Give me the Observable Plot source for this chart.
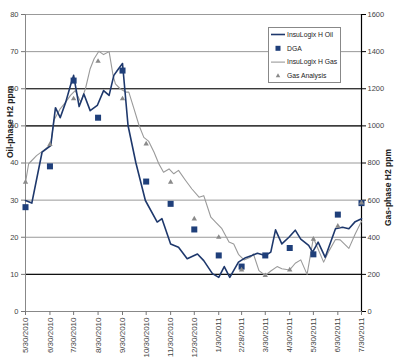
<!DOCTYPE html>
<html>
<head>
<meta charset="utf-8">
<script src="https://cdn.jsdelivr.net/npm/d3@7"></script>
<script src="https://cdn.jsdelivr.net/npm/@observablehq/plot@0.6"></script>
<style>
  html, body { margin: 0; padding: 0; background: #fff; }
  #chart { width: 400px; height: 363px; }
</style>
</head>
<body>
<div id="chart"></div>
<script>
// ---- Data ----
const xTickLabels = ["5/30/2010","6/30/2010","7/30/2010","8/30/2010","9/30/2010","10/30/2010","11/30/2010","12/30/2010","1/30/2011","2/28/2011","3/30/2011","4/30/2011","5/30/2011","6/30/2011","7/30/2011"];
const yTicks = [0,10,20,30,40,50,60,70,80];

// InsuLogix H Oil (oil-phase H2 ppm)
const oilDates = ["2010-05-30","2010-06-07","2010-06-20","2010-07-01","2010-07-07","2010-07-13","2010-07-20","2010-07-26","2010-07-30","2010-08-06","2010-08-12","2010-08-20","2010-08-29","2010-09-06","2010-09-13","2010-09-19","2010-09-25","2010-09-30","2010-10-07","2010-10-17","2010-10-29","2010-11-13","2010-11-19","2010-11-30","2010-12-10","2010-12-21","2011-01-03","2011-01-11","2011-01-22","2011-01-30","2011-02-06","2011-02-13","2011-02-24","2011-03-05","2011-03-13","2011-03-20","2011-03-30","2011-04-06","2011-04-12","2011-04-20","2011-04-29","2011-05-07","2011-05-14","2011-05-24","2011-05-29","2011-06-05","2011-06-14","2011-06-27","2011-07-06","2011-07-14","2011-07-22","2011-07-30"];
const oilValues = [29.9,29.2,42.9,44.7,54.9,52.2,56.4,60.9,63.6,55.2,58.6,54.1,55.5,59.5,58.2,63.6,65.4,66.8,50.1,40.0,29.9,24.1,25.0,18.2,17.3,14.2,15.5,13.7,10.2,9.2,12.1,9.2,13.3,14.5,15.1,15.7,15.1,16.0,22.0,18.2,20.0,21.9,19.5,17.8,16.0,18.7,14.6,22.3,22.7,22.3,24.2,25.0];

// InsuLogix H Gas (gas-phase H2 ppm)
const gasDates = ["2010-05-30","2010-06-03","2010-06-13","2010-06-22","2010-07-01","2010-07-05","2010-07-13","2010-07-20","2010-07-26","2010-08-01","2010-08-08","2010-08-14","2010-08-20","2010-08-25","2010-08-31","2010-09-06","2010-09-13","2010-09-18","2010-09-21","2010-09-27","2010-10-04","2010-10-08","2010-10-14","2010-10-21","2010-10-27","2010-11-02","2010-11-09","2010-11-15","2010-11-21","2010-11-28","2010-12-04","2010-12-10","2010-12-19","2010-12-27","2011-01-05","2011-01-11","2011-01-20","2011-01-26","2011-02-03","2011-02-12","2011-02-18","2011-02-24","2011-03-03","2011-03-11","2011-03-15","2011-03-22","2011-03-30","2011-04-06","2011-04-14","2011-04-20","2011-04-30","2011-05-07","2011-05-14","2011-05-22","2011-05-30","2011-06-04","2011-06-12","2011-06-19","2011-06-27","2011-07-03","2011-07-14","2011-07-22","2011-07-30"];
const gasValues = [696,796,840,868,900,1030,1092,1128,1164,1190,1128,1200,1308,1362,1402,1384,1400,1272,1226,1200,1182,1182,1100,1002,938,918,858,796,750,768,742,760,706,660,616,624,508,482,446,374,364,308,278,292,310,220,194,218,242,230,224,260,278,200,396,346,266,328,388,386,340,418,486];

// Monthly lab samples
const dgaValues = [28.1,39.1,62.2,52.2,64.9,35.0,29.0,22.1,15.1,12.1,15.1,17.1,15.4,26.1,29.2];           // oil ppm
const gasAnalysisValues = [697,900,1146,1348,1146,903,697,499,400,224,194,224,390,460,585];               // gas ppm

// ---- Build tables ----
const parseMDY = s => { const [m,d,y] = s.split("/").map(Number); return new Date(Date.UTC(y, m-1, d)); };
const parseISO = s => new Date(s + "T00:00:00Z");
const tickDates = xTickLabels.map(parseMDY);
const fmt = d => `${d.getUTCMonth()+1}/${d.getUTCDate()}/${d.getUTCFullYear()}`;

const oil = oilDates.map((d,i) => ({date: parseISO(d), v: oilValues[i]}));
const gas = gasDates.map((d,i) => ({date: parseISO(d), v: gasValues[i]}));
const dga = tickDates.map((d,i) => ({date: d, v: dgaValues[i]}));
const ga  = tickDates.map((d,i) => ({date: d, v: gasAnalysisValues[i]}));
const RATIO = 20; // gas axis = oil axis * 20

const FONT = "Arial, 'Liberation Sans', sans-serif";
const navy = "#1e386c";
const grayLine = "#9a9a9a";

const plot = Plot.plot({
  width: 400,
  height: 363,
  marginLeft: 25,
  marginRight: 39,
  marginTop: 14,
  marginBottom: 52,
  style: {fontFamily: FONT, fontSize: "7px", color: "#444", background: "#fff"},
  x: {type: "utc", domain: [tickDates[0], tickDates[tickDates.length-1]]},
  y: {domain: [0, 80]},
  marks: [
    Plot.ruleY(yTicks, {stroke: "#999", strokeWidth: 1}),
    Plot.ruleY(yTicks.filter(t => t === 10 || t === 50 || t === 60), {stroke: "#111", strokeWidth: 1.2}),
    Plot.ruleX([tickDates[0]], {stroke: "#888"}),
    Plot.ruleX([tickDates[tickDates.length-1]], {stroke: "#000", strokeWidth: 1.2}),
    Plot.ruleY([0], {stroke: "#888"}),
    Plot.axisY({ticks: yTicks, tickSize: 4, tickPadding: 3, label: null, stroke: "#777", fill: "#444", fontSize: 7.5}),
    Plot.axisY({anchor: "right", ticks: yTicks, tickFormat: d => String(d * RATIO), tickSize: 4, tickPadding: 2, label: null, stroke: "#000", fill: "#444", fontSize: 7.5}),
    Plot.axisX({ticks: tickDates, tickFormat: fmt, tickRotate: -90, tickSize: 4, tickPadding: 2, label: null, stroke: "#777", fill: "#444", fontSize: 8}),
    Plot.text(["Oil-phase H2 ppm"], {frameAnchor: "left", dx: -15, dy: -5, rotate: -90, fontWeight: "bold", fontSize: 8.5, fill: "#222"}),
    Plot.text(["Gas-phase H2 ppm"], {frameAnchor: "right", dx: 27, dy: -14, rotate: -90, fontWeight: "bold", fontSize: 8.5, fill: "#222"}),
    Plot.line(gas, {x: "date", y: d => d.v / RATIO, stroke: grayLine, strokeWidth: 1.1}),
    Plot.line(oil, {x: "date", y: "v", stroke: navy, strokeWidth: 1.6}),
    Plot.dot(dga, {x: "date", y: "v", symbol: "square", fill: "#1f3f7a", r: 3.4}),
    Plot.dot(ga, {x: "date", y: d => d.v / RATIO, symbol: "triangle", fill: "#8a8a8a", r: 2})
  ]
});

document.getElementById("chart").appendChild(plot);

// ---- Legend (inside plot) ----
const svg = d3.select(plot);
const lg = svg.append("g").attr("font-family", FONT).attr("font-size", 6.8).attr("fill", "#222").attr("text-anchor", "start");
lg.append("rect").attr("x", 268.5).attr("y", 27.5).attr("width", 72).attr("height", 55)
  .attr("fill", "#fff").attr("stroke", "#888");
const entries = [
  {label: "InsuLogix H Oil", kind: "line", color: navy, w: 1.6},
  {label: "DGA", kind: "square", color: "#1f3f7a"},
  {label: "InsuLogix H Gas", kind: "line", color: grayLine, w: 1.1},
  {label: "Gas Analysis", kind: "triangle", color: "#8a8a8a"}
];
entries.forEach((e, i) => {
  const cy = 34.5 + i * 13.8;
  if (e.kind === "line") {
    lg.append("line").attr("x1", 271).attr("x2", 285).attr("y1", cy).attr("y2", cy)
      .attr("stroke", e.color).attr("stroke-width", e.w);
  } else if (e.kind === "square") {
    lg.append("rect").attr("x", 275.5).attr("y", cy - 2.5).attr("width", 5).attr("height", 5).attr("fill", e.color);
  } else {
    lg.append("path").attr("d", d3.symbol(d3.symbolTriangle, 9)()).attr("transform", `translate(278,${cy})`).attr("fill", e.color);
  }
  lg.append("text").attr("x", 287).attr("y", cy).attr("dy", "0.35em").attr("text-anchor", "start").text(e.label);
});
</script>
</body>
</html>
